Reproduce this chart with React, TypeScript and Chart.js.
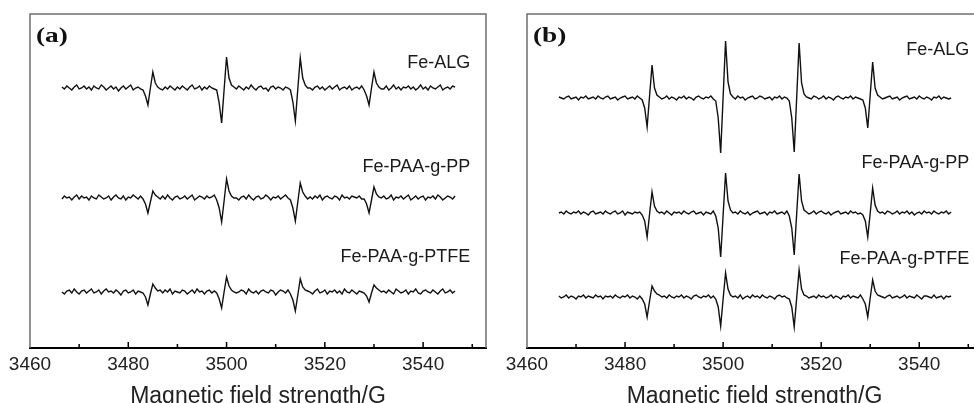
import React, { useEffect, useRef } from "react";
import { Chart, registerables } from "chart.js";

Chart.register(...registerables);

// Magnetic field sampling positions (G)
const FIELD_G = [
  3466.5, 3467, 3467.5, 3468, 3468.5, 3469, 3469.5, 3470, 3470.5, 3471,
  3471.5, 3472, 3472.5, 3473, 3473.5, 3474, 3474.5, 3475, 3475.5, 3476,
  3476.5, 3477, 3477.5, 3478, 3478.5, 3479, 3479.5, 3480, 3480.5, 3481,
  3481.5, 3482, 3482.5, 3483, 3483.5, 3484, 3484.5, 3485, 3485.5, 3486,
  3486.5, 3487, 3487.5, 3488, 3488.5, 3489, 3489.5, 3490, 3490.5, 3491,
  3491.5, 3492, 3492.5, 3493, 3493.5, 3494, 3494.5, 3495, 3495.5, 3496,
  3496.5, 3497, 3497.5, 3498, 3498.5, 3499, 3499.5, 3500, 3500.5, 3501,
  3501.5, 3502, 3502.5, 3503, 3503.5, 3504, 3504.5, 3505, 3505.5, 3506,
  3506.5, 3507, 3507.5, 3508, 3508.5, 3509, 3509.5, 3510, 3510.5, 3511,
  3511.5, 3512, 3512.5, 3513, 3513.5, 3514, 3514.5, 3515, 3515.5, 3516,
  3516.5, 3517, 3517.5, 3518, 3518.5, 3519, 3519.5, 3520, 3520.5, 3521,
  3521.5, 3522, 3522.5, 3523, 3523.5, 3524, 3524.5, 3525, 3525.5, 3526,
  3526.5, 3527, 3527.5, 3528, 3528.5, 3529, 3529.5, 3530, 3530.5, 3531,
  3531.5, 3532, 3532.5, 3533, 3533.5, 3534, 3534.5, 3535, 3535.5, 3536,
  3536.5, 3537, 3537.5, 3538, 3538.5, 3539, 3539.5, 3540, 3540.5, 3541,
  3541.5, 3542, 3542.5, 3543, 3543.5, 3544, 3544.5, 3545, 3545.5, 3546,
  3546.5,
];

// Panel (a) EPR signal intensities (a.u.)
const A_ALG = [
  1, -1, 2, 0, -2, 1, 3, -1, 0, 2,
  -1, 1, -2, 2, 0, -1, 3, 1, -2, 0,
  2, -1, 1, -3, 0, 2, -1, 1, 3, -2,
  0, 1, -1, -2, -8, -17, 0, 16, 5, 1,
  -1, -2, 1, -1, 2, 0, -2, 1, -1, 2,
  0, -2, 1, 3, -1, 0, 2, -2, 1, -1,
  2, 0, -1, -2, -15, -35, -2, 31, 10, 3,
  1, -1, 2, 0, -2, 1, -1, 3, 0, -2,
  1, 2, -1, 0, -3, 1, 2, -1, 1, 0,
  -2, 1, 0, -2, -14, -33, -1, 30, 10, 3,
  0, 0, -2, 1, 2, -1, 1, -2, 0, 2,
  -1, 1, 3, -2, 0, 1, -1, 2, -2, 0,
  1, -1, 2, -2, -8, -17, 0, 16, 5, 1,
  -1, -1, 2, -2, 0, 3, -1, 1, -2, 1,
  0, 2, -1, 1, -2, 0, 3, -1, 1, -2,
  2, 0, -1, 1, 3, -2, 0, 1, -1, 2,
  1,
];
const A_PP = [
  -1, 2, 0, 1, -2, 1, 3, -1, 2, 0,
  1, -2, 2, 0, -1, 3, 1, -1, 0, 2,
  -2, 1, 3, 0, -1, 2, -2, 1, 0, 3,
  1, -1, 2, -1, -6, -15, -4, 7, 3, 1,
  -1, 2, -1, 3, 0, -2, 1, 2, -1, 0,
  2, -1, 1, 3, -2, 0, 2, 1, -1, 2,
  0, 1, 3, -2, -10, -24, -3, 19, 7, 2,
  0, 0, -2, 1, 2, -1, 3, 0, -2, 1,
  2, -1, 0, 3, 1, -2, 1, 0, 2, -1,
  1, 3, 0, -2, -10, -23, -4, 15, 6, 2,
  -1, 1, -1, 2, 0, 3, -2, 1, 2, 0,
  -1, 2, 1, -2, 3, 0, 1, -1, 2, 1,
  0, 2, -1, -1, -6, -15, -2, 11, 4, 1,
  0, 2, -1, 0, 3, -2, 1, 0, 2, -1,
  1, 3, -2, 0, 2, -1, 1, 2, -2, 1,
  0, 2, -1, 3, 1, -2, 0, 2, 1, -1,
  2,
];
const A_PTFE = [
  0, -2, 1, 2, -1, 3, 0, -2, 1, 2,
  -1, 1, 3, -1, 0, 2, -2, 1, 3, 0,
  1, -1, 2, 0, -3, 1, 2, -1, 0, 2,
  -2, 1, 0, -1, -5, -13, -2, 8, 4, 1,
  2, -1, 2, 0, 3, -2, 1, 0, -1, 2,
  1, -2, 0, 2, -1, 3, 0, 1, -2, 1,
  2, -1, 1, -1, -7, -16, 0, 15, 6, 2,
  0, -1, 0, 2, 1, -2, 3, 0, -1, 1,
  -2, 1, 2, 0, -1, 2, 1, -3, 0, 2,
  1, -1, 2, -2, -8, -19, -3, 13, 5, 2,
  1, 0, -2, 1, 3, -1, 0, 2, -2, 1,
  0, 2, -1, 1, -2, 3, 0, -1, 2, 0,
  -2, 1, 0, -1, -4, -10, -1, 7, 4, 2,
  0, 1, -1, 2, 0, -2, 3, 1, -1, 0,
  2, -2, 1, 0, 3, -1, -2, 1, 2, 0,
  -1, 2, 0, -2, 1, 3, -1, 0, 2, -1,
  1,
];

// Panel (b) EPR signal intensities (a.u.)
const B_ALG = [
  1, 0, -1, 1, 2, -1, 0, 1, -2, 1,
  0, 2, -1, 0, 1, -1, 2, 0, -1, 1,
  2, -1, 0, 1, -2, 0, 1, 2, -1, 0,
  1, -1, 2, 0, -2, -10, -29, 2, 33, 10,
  3, 1, -1, 0, 2, -1, 1, 0, -2, 1,
  0, 2, -1, 1, 0, -2, 1, 2, 0, -1,
  1, 0, 2, -1, -3, -20, -55, 1, 57, 16,
  4, 1, -1, 2, 0, 1, -2, 0, 1, 2,
  -1, 0, 2, 1, -1, 0, 1, -2, 1, 0,
  2, -1, 1, 0, -3, -20, -54, 0, 55, 15,
  4, 1, 0, -1, 2, 1, -1, 0, 2, -1,
  1, 0, -2, 1, 2, 0, -1, 1, 0, 2,
  -1, 1, 0, -1, -2, -10, -30, 3, 36, 10,
  3, 1, -1, 0, 1, 2, -1, 0, 1, -2,
  0, 1, 2, -1, 0, 1, -1, 2, 0, -1,
  1, 0, -2, 1, 0, 2, -1, 1, 0, -1,
  0,
];
const B_PP = [
  0, 1, -1, 2, 0, -1, 1, 0, 2, -1,
  1, 0, -2, 1, 2, -1, 0, 1, -1, 2,
  0, -1, 1, 2, -1, 0, 2, -2, 1, 0,
  -1, 1, 0, 1, -2, -8, -24, -1, 21, 7,
  2, 0, 1, -1, 2, 0, -2, 1, 0, 1,
  -1, 2, 0, -1, 1, 2, -1, 0, 1, -2,
  1, 0, -1, 2, -3, -15, -44, -2, 40, 12,
  3, 0, 1, -1, 2, 0, -1, 1, -2, 0,
  1, 2, -1, 0, 1, -2, 1, 0, 2, -1,
  0, 1, -1, 2, -3, -15, -42, -1, 39, 12,
  3, 1, -1, 0, 2, -1, 1, 2, 0, -1,
  1, -2, 0, 1, 2, -1, 0, 1, -1, 2,
  0, 1, -1, 0, -2, -8, -24, 0, 25, 8,
  2, 0, 1, -1, 2, 1, -1, 0, 2, -1,
  1, 0, 2, -1, 1, -2, 0, 1, -1, 2,
  0, 1, -1, 2, 0, -1, 1, 0, 2, -1,
  1,
];
const B_PTFE = [
  1, -1, 0, 2, -1, 1, 0, -2, 1, 0,
  2, -1, 1, 0, -1, 2, 0, 1, -2, 1,
  0, 1, -1, 2, 0, -1, 1, 0, 2, -1,
  1, 0, -2, 1, -2, -7, -20, -4, 11, 6,
  3, 2, 0, 1, -1, 2, 0, -1, 1, 0,
  2, -1, 1, 0, -2, 1, 2, 0, -1, 1,
  0, 2, -1, 1, -2, -10, -29, -2, 24, 8,
  2, 0, 1, -1, 2, -2, 0, 1, -1, 2,
  0, 1, -1, 2, 0, -1, 1, 0, -2, 1,
  2, 0, 1, -1, -2, -10, -30, -1, 27, 8,
  2, 1, -1, 0, 1, -1, 2, 0, 1, -1,
  0, 2, -1, 1, 0, -2, 1, 0, 2, -1,
  1, 0, -1, 2, -2, -7, -20, -1, 17, 6,
  2, 1, 0, -1, 1, 2, -1, 0, 1, -1,
  0, 2, -1, 1, 0, -1, 2, 0, -2, 1,
  1, 0, -1, 2, -1, 0, 1, -2, 1, 0,
  1,
];

const SAMPLE_NAMES = ["Fe-ALG", "Fe-PAA-g-PP", "Fe-PAA-g-PTFE"];
// vertical stacking offsets of the three spectra
const OFFSETS_A = [260, 150, 56];
const OFFSETS_B = [250, 135, 51];
const X_TICK_LABELS = [3460, 3480, 3500, 3520, 3540];
const X_TITLE = "Magnetic field strength/G";

const SANS = '"Liberation Sans", Arial, Helvetica, sans-serif';

type PanelSpec = {
  letter: string;
  series: number[][];
  offsets: number[];
  labelX: number;
  labelYs: number[];
  padRight: number;
};

const PANEL_A: PanelSpec = {
  letter: "(a)",
  series: [A_ALG, A_PP, A_PTFE],
  offsets: OFFSETS_A,
  labelX: 3549.6,
  labelYs: [285, 181, 91],
  padRight: 4,
};
const PANEL_B: PanelSpec = {
  letter: "(b)",
  series: [B_ALG, B_PP, B_PTFE],
  offsets: OFFSETS_B,
  labelX: 3550.2,
  labelYs: [298, 185, 89],
  padRight: 5,
};

const CANVAS_W = 490;
const CANVAS_H = 410;

function makeChart(canvas: HTMLCanvasElement, spec: PanelSpec) {
  const decor = {
    id: "panelDecor",
    afterDraw(chart: any) {
      const { ctx, chartArea, scales } = chart;
      const { left, right, top, bottom } = chartArea;
      const x = scales.x;
      const y = scales.y;
      ctx.save();
      // frame (top, left, right)
      ctx.strokeStyle = "#6e6e6e";
      ctx.lineWidth = 1.5;
      ctx.beginPath();
      ctx.moveTo(left, bottom);
      ctx.lineTo(left, top);
      ctx.lineTo(right, top);
      ctx.lineTo(right, bottom);
      ctx.stroke();
      // inward tick marks
      ctx.strokeStyle = "#000";
      ctx.lineWidth = 1.5;
      x.ticks.forEach((t: any) => {
        const px = x.getPixelForValue(t.value);
        if (px <= left + 1 || px >= right - 1) return;
        const len = X_TICK_LABELS.includes(t.value) ? 6 : 4;
        ctx.beginPath();
        ctx.moveTo(px, bottom);
        ctx.lineTo(px, bottom - len);
        ctx.stroke();
      });
      // panel letter
      ctx.fillStyle = "#111";
      ctx.font = 'bold 21px "Liberation Serif", "Times New Roman", serif';
      ctx.textAlign = "left";
      ctx.textBaseline = "alphabetic";
      ctx.save();
      ctx.translate(left + 6, 42);
      ctx.scale(1.3, 1);
      ctx.fillText(spec.letter, 0, 0);
      ctx.restore();
      // sample labels
      ctx.font = "18px " + SANS;
      ctx.textAlign = "right";
      ctx.textBaseline = "middle";
      ctx.fillStyle = "#1a1a1a";
      SAMPLE_NAMES.forEach((name, i) => {
        ctx.fillText(name, x.getPixelForValue(spec.labelX), y.getPixelForValue(spec.labelYs[i]));
      });
      ctx.restore();
    },
  };

  return new Chart(canvas, {
    type: "line",
    data: {
      datasets: spec.series.map((vals, k) => ({
        label: SAMPLE_NAMES[k],
        data: FIELD_G.map((f, i) => ({ x: f, y: vals[i] + spec.offsets[k] })),
        borderColor: "#111",
        borderWidth: 1.4,
        pointRadius: 0,
        tension: 0,
        fill: false,
      })),
    },
    options: {
      animation: false,
      responsive: false,
      devicePixelRatio: 1,
      layout: { padding: { left: 30, right: spec.padRight, top: 14, bottom: 0 } },
      plugins: { legend: { display: false }, tooltip: { enabled: false } },
      scales: {
        x: {
          type: "linear",
          min: 3460,
          max: 3552.8,
          border: { display: true, color: "#000", width: 2 },
          grid: { display: true, drawOnChartArea: false, drawTicks: false },
          ticks: {
            stepSize: 10,
            includeBounds: false,
            autoSkip: false,
            maxRotation: 0,
            padding: 5,
            color: "#222",
            font: { family: SANS, size: 19 },
            callback: (v: any) => (X_TICK_LABELS.includes(Number(v)) ? String(v) : ""),
          },
          title: {
            display: true,
            text: X_TITLE,
            color: "#222",
            padding: 0,
            font: { family: SANS, size: 23 },
          },
          afterFit: (s: any) => {
            s.height = CANVAS_H - 348;
          },
        },
        y: { display: false, min: 0, max: 334 },
      },
    },
    plugins: [decor],
  } as any);
}

export default function App() {
  const refA = useRef<HTMLCanvasElement>(null);
  const refB = useRef<HTMLCanvasElement>(null);

  useEffect(() => {
    const a = makeChart(refA.current!, PANEL_A);
    const b = makeChart(refB.current!, PANEL_B);
    return () => {
      a.destroy();
      b.destroy();
    };
  }, []);

  return (
    <div
      style={{
        position: "fixed",
        left: 0,
        top: 0,
        width: 974,
        height: 403,
        overflow: "hidden",
        background: "#fff",
      }}
    >
      <canvas
        ref={refA}
        width={CANVAS_W}
        height={CANVAS_H}
        style={{ position: "absolute", left: 0, top: 0, width: CANVAS_W, height: CANVAS_H }}
      />
      <canvas
        ref={refB}
        width={CANVAS_W}
        height={CANVAS_H}
        style={{ position: "absolute", left: 497, top: 0, width: CANVAS_W, height: CANVAS_H }}
      />
    </div>
  );
}
